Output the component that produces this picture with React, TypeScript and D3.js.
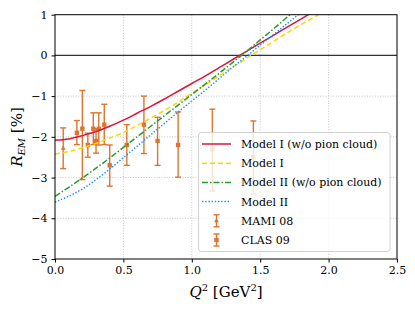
import React from 'react';
import * as d3 from 'd3';

// model curves (Q^2 grid shared by all four)
const modelQ2 = [0, 0.1, 0.2, 0.3, 0.4, 0.5, 0.6, 0.7, 0.8, 0.9, 1.0, 1.1, 1.2, 1.3, 1.4, 1.5, 1.6, 1.7, 1.8, 1.9, 2.0];
const modelIwo = [-2.08, -2.05, -1.97, -1.87, -1.74, -1.59, -1.42, -1.25, -1.07, -0.88, -0.69, -0.50, -0.30, -0.10, 0.10, 0.30, 0.50, 0.70, 0.90, 1.10, 1.30];
const modelI = [-2.42, -2.36, -2.27, -2.16, -2.03, -1.89, -1.72, -1.54, -1.35, -1.15, -0.93, -0.72, -0.50, -0.28, -0.07, 0.14, 0.35, 0.56, 0.76, 0.95, 1.14];
const modelIIwo = [-3.46, -3.24, -3.01, -2.77, -2.52, -2.26, -2.00, -1.74, -1.48, -1.22, -0.96, -0.70, -0.44, -0.17, 0.10, 0.38, 0.66, 0.95, 1.23, 1.51, 1.79];
const modelII = [-3.60, -3.46, -3.28, -3.05, -2.79, -2.51, -2.23, -1.95, -1.67, -1.39, -1.12, -0.85, -0.57, -0.29, -0.02, 0.25, 0.52, 0.79, 1.06, 1.33, 1.60];

// experimental points
const mamiQ2 = [0.06];
const mamiR = [-2.28];
const mamiErrUp = [0.5];
const mamiErrDown = [0.5];

const clasQ2 = [0.16, 0.20, 0.24, 0.28, 0.30, 0.32, 0.36, 0.40, 0.525, 0.65, 0.75, 0.90, 1.15, 1.45];
const clasR = [-1.90, -1.80, -2.20, -1.80, -2.10, -1.80, -1.70, -2.70, -2.20, -1.70, -2.10, -2.20, -2.30, -2.50];
const clasErrUp = [0.30, 0.94, 0.29, 0.39, 0.30, 0.39, 0.50, 0.50, 0.50, 0.70, 0.58, 0.81, 0.98, 0.89];
const clasErrDown = [0.29, 1.25, 0.30, 0.39, 0.30, 0.40, 0.49, 0.51, 0.50, 0.71, 0.60, 0.79, 1.03, 0.90];

const xTicks = [0, 0.5, 1.0, 1.5, 2.0, 2.5];
const yTicks = [-5, -4, -3, -2, -1, 0, 1];

const modelLabels = ['Model I (w/o pion cloud)', 'Model I', 'Model II (w/o pion cloud)', 'Model II'];
const dataLabels = ['MAMI 08', 'CLAS 09'];

class Chart extends React.Component {
	componentDidMount() {
		document.body.style.margin = '0';
		this.drawChart();
	}

	drawChart() {
		const w = 415;
		const h = 311;
		const left = 55, right = 397, top = 14.7, bottom = 259;
		const font = "'DejaVu Serif', serif";
		const orange = '#dd7430';

		const x = d3.scaleLinear().domain([0, 2.5]).range([left, right]);
		const y = d3.scaleLinear().domain([-5, 1]).range([bottom, top]);

		const svg = d3
			.select('#chart')
			.append('svg')
			.attr('width', w)
			.attr('height', h)
			.style('display', 'block');

		svg.append('defs')
			.append('clipPath')
			.attr('id', 'plotclip')
			.append('rect')
			.attr('x', left)
			.attr('y', top)
			.attr('width', right - left)
			.attr('height', bottom - top);

		// grid
		svg.append('g')
			.selectAll('line')
			.data(xTicks.slice(1, -1))
			.enter()
			.append('line')
			.attr('x1', d => x(d))
			.attr('x2', d => x(d))
			.attr('y1', top)
			.attr('y2', bottom)
			.attr('stroke', '#b8b8b8')
			.attr('stroke-width', 0.8)
			.attr('stroke-dasharray', '1,1.6');
		svg.append('g')
			.selectAll('line')
			.data(yTicks.slice(1, -1))
			.enter()
			.append('line')
			.attr('x1', left)
			.attr('x2', right)
			.attr('y1', d => y(d))
			.attr('y2', d => y(d))
			.attr('stroke', '#b8b8b8')
			.attr('stroke-width', 0.8)
			.attr('stroke-dasharray', '1,1.6');

		// zero line
		svg.append('line')
			.attr('x1', left)
			.attr('x2', right)
			.attr('y1', y(0))
			.attr('y2', y(0))
			.attr('stroke', '#333')
			.attr('stroke-width', 1.3);

		// error bars
		const drawErr = (g: any, q: number[], r: number[], up: number[], down: number[], marker: string) => {
			const idx = q.map((_, i) => i);
			g.selectAll('line.bar')
				.data(idx)
				.enter()
				.append('line')
				.attr('x1', (i: number) => x(q[i]))
				.attr('x2', (i: number) => x(q[i]))
				.attr('y1', (i: number) => y(r[i] + up[i]))
				.attr('y2', (i: number) => y(r[i] - down[i]))
				.attr('stroke', orange)
				.attr('stroke-width', 1.4);
			['top', 'bot'].forEach(k => {
				g.selectAll('line.cap' + k)
					.data(idx)
					.enter()
					.append('line')
					.attr('x1', (i: number) => x(q[i]) - 3)
					.attr('x2', (i: number) => x(q[i]) + 3)
					.attr('y1', (i: number) => y(k === 'top' ? r[i] + up[i] : r[i] - down[i]))
					.attr('y2', (i: number) => y(k === 'top' ? r[i] + up[i] : r[i] - down[i]))
					.attr('stroke', orange)
					.attr('stroke-width', 1.4);
			});
			if (marker === 'square') {
				g.selectAll('rect')
					.data(idx)
					.enter()
					.append('rect')
					.attr('x', (i: number) => x(q[i]) - 2.2)
					.attr('y', (i: number) => y(r[i]) - 2.2)
					.attr('width', 4.4)
					.attr('height', 4.4)
					.attr('fill', orange);
			} else {
				g.selectAll('path')
					.data(idx)
					.enter()
					.append('path')
					.attr('d', d3.symbol(d3.symbolTriangle, 10)())
					.attr('transform', (i: number) => `translate(${x(q[i])},${y(r[i])})`)
					.attr('fill', orange);
			}
		};
		drawErr(svg.append('g'), mamiQ2, mamiR, mamiErrUp, mamiErrDown, 'triangle');
		drawErr(svg.append('g'), clasQ2, clasR, clasErrUp, clasErrDown, 'square');

		// model curves
		const styles = [
			{ vals: modelIwo, color: '#dc143c', dash: null },
			{ vals: modelI, color: '#ffd700', dash: '5,3' },
			{ vals: modelIIwo, color: '#2a9a2a', dash: '6,2,1.5,2' },
			{ vals: modelII, color: '#1e90ff', dash: '1.4,1.8' },
		];
		const line = d3.line<number>()
			.x((d, i) => x(modelQ2[i]))
			.y(d => y(d))
			.curve(d3.curveMonotoneX);
		const curves = svg.append('g').attr('clip-path', 'url(#plotclip)');
		styles.forEach(s => {
			curves.append('path')
				.attr('d', line(s.vals))
				.attr('fill', 'none')
				.attr('stroke', s.color)
				.attr('stroke-width', 1.5)
				.attr('stroke-dasharray', s.dash);
		});

		// frame
		svg.append('rect')
			.attr('x', left)
			.attr('y', top)
			.attr('width', right - left)
			.attr('height', bottom - top)
			.attr('fill', 'none')
			.attr('stroke', '#000')
			.attr('stroke-width', 1);

		// axes
		const xAxis = svg.append('g')
			.attr('transform', `translate(0,${bottom})`)
			.call(d3.axisBottom(x).tickValues(xTicks).tickFormat(d3.format('.1f')).tickSize(3.5).tickPadding(3.5));
		const yAxis = svg.append('g')
			.attr('transform', `translate(${left},0)`)
			.call(d3.axisLeft(y).tickValues(yTicks).tickFormat(d3.format('d')).tickSize(3.5).tickPadding(4));
		[xAxis, yAxis].forEach(a => {
			a.select('.domain').remove();
			a.selectAll('text')
				.attr('font-family', font)
				.attr('font-size', '11px')
				.attr('fill', '#000');
			a.selectAll('line').attr('stroke', '#000');
		});

		// axis labels
		const xl = svg.append('text')
			.attr('x', 226)
			.attr('y', 297)
			.attr('text-anchor', 'middle')
			.attr('font-family', font)
			.attr('font-size', '15px');
		xl.append('tspan').attr('font-style', 'italic').text('Q');
		xl.append('tspan').attr('dy', -6).attr('font-size', '10px').text('2');
		xl.append('tspan').attr('dy', 6).text(' [GeV');
		xl.append('tspan').attr('dy', -6).attr('font-size', '10px').text('2');
		xl.append('tspan').attr('dy', 6).text(']');

		const yl = svg.append('text')
			.attr('transform', 'translate(22,137) rotate(-90)')
			.attr('text-anchor', 'middle')
			.attr('font-family', font)
			.attr('font-size', '15px');
		yl.append('tspan').attr('font-style', 'italic').text('R');
		yl.append('tspan').attr('dy', 3).attr('font-size', '10px').attr('font-style', 'italic').text('EM');
		yl.append('tspan').attr('dy', -3).text(' [%]');

		// legend
		const lg = svg.append('g');
		lg.append('rect')
			.attr('x', 198.5)
			.attr('y', 132.5)
			.attr('width', 191.5)
			.attr('height', 119)
			.attr('rx', 3)
			.attr('fill', 'white')
			.attr('fill-opacity', 0.8)
			.attr('stroke', '#d0d0d0')
			.attr('stroke-width', 1);
		const rowY = (i: number) => 144 + i * 19.2;
		styles.forEach((s, i) => {
			lg.append('line')
				.attr('x1', 202)
				.attr('x2', 231)
				.attr('y1', rowY(i))
				.attr('y2', rowY(i))
				.attr('stroke', s.color)
				.attr('stroke-width', 1.5)
				.attr('stroke-dasharray', s.dash);
			lg.append('text')
				.attr('x', 241)
				.attr('y', rowY(i) + 4)
				.attr('font-family', font)
				.attr('font-size', '11px')
				.text(modelLabels[i]);
		});
		dataLabels.forEach((lab, j) => {
			const cy = rowY(4 + j);
			const cx = 216.5;
			lg.append('line').attr('x1', cx).attr('x2', cx).attr('y1', cy - 6).attr('y2', cy + 6)
				.attr('stroke', orange).attr('stroke-width', 1.4);
			[-6, 6].forEach(o => {
				lg.append('line').attr('x1', cx - 3).attr('x2', cx + 3).attr('y1', cy + o).attr('y2', cy + o)
					.attr('stroke', orange).attr('stroke-width', 1.4);
			});
			if (j === 0) {
				lg.append('path')
					.attr('d', d3.symbol(d3.symbolTriangle, 10)())
					.attr('transform', `translate(${cx},${cy})`)
					.attr('fill', orange);
			} else {
				lg.append('rect').attr('x', cx - 2.2).attr('y', cy - 2.2).attr('width', 4.4).attr('height', 4.4)
					.attr('fill', orange);
			}
			lg.append('text')
				.attr('x', 241)
				.attr('y', cy + 4)
				.attr('font-family', font)
				.attr('font-size', '11px')
				.text(lab);
		});
	}

	render() {
		return <div id="chart" />;
	}
}

export default function App() {
	return <Chart />;
}
